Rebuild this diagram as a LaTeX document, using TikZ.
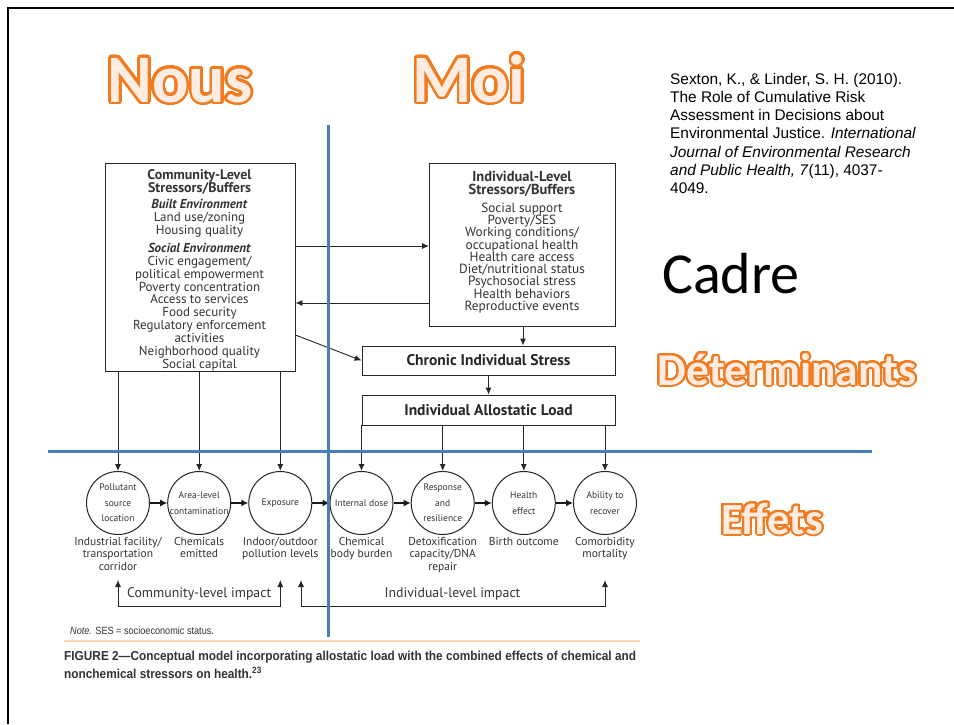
\documentclass[tikz,border=0pt]{standalone}
\usepackage{fontspec}
\usepackage{contour}
\usetikzlibrary{arrows.meta}
\setmainfont{PT Sans}
\newfontfamily\figfont{PT Sans}
\newfontfamily\arialf{Liberation Sans}
\newfontfamily\calib{Carlito}
\definecolor{blueline}{HTML}{4A7EBB}
\definecolor{orangeout}{HTML}{F27A1F}
\definecolor{palefill}{HTML}{FCECE2}
\definecolor{figtext}{HTML}{333333}
\definecolor{capline}{HTML}{F9D7B0}
\contournumber{40}
\begin{document}
\begin{tikzpicture}[x=1pt,y=-1pt,
  figtxt/.style={font=\figfont\fontsize{13}{12.9}\selectfont, text=figtext, align=center, inner sep=0pt},
  bx/.style={draw=black!85, line width=0.9pt, inner sep=0pt},
  circ/.style={circle, draw=black!85, line width=1pt, minimum size=63pt, inner sep=0pt, font=\figfont\fontsize{9.5}{15.5}\selectfont, text=figtext, align=center},
  arr/.style={-{Latex[length=7pt,width=6pt]}, line width=0.9pt, draw=black!85},
  arrboth/.style={{Latex[length=7pt,width=6pt]}-{Latex[length=7pt,width=6pt]}, line width=0.9pt, draw=black!85},
  harr/.style={-{Latex[length=7pt,width=7pt]}, line width=1.5pt, draw=black!90},
  lbl/.style={font=\figfont\fontsize{11.5}{12.6}\selectfont, text=figtext, align=center, anchor=north, inner sep=0pt},
  outl/.style={font=\calib\bfseries\fontsize{68}{68}\selectfont, anchor=base, inner sep=0pt},
  bluel/.style={draw=blueline, line width=3pt}
]
\path[use as bounding box] (0,0) rectangle (954,724);
\fill[white] (0,0) rectangle (954,724);
\draw[line width=2.5pt] (8,724) -- (8,8) -- (954,8);

% big outlined titles
\contourlength{2.6pt}
\node[outl] (nous) at (180,102) {\contour{orangeout}{\textcolor{palefill}{Nous}}};
\node[outl] (moi) at (469,102) {\contour{orangeout}{\textcolor{palefill}{Moi}}};
\contourlength{2pt}
\node[outl, font=\calib\bfseries\fontsize{45.5}{46}\selectfont] (det) at (787,385) {\contour{orangeout}{\textcolor{palefill}{Déterminants}}};
\node[outl, font=\calib\bfseries\fontsize{44.5}{45}\selectfont] (eff) at (772,534) {\contour{orangeout}{\textcolor{palefill}{Effets}}};
\node[anchor=base west, inner sep=0pt, font=\calib\fontsize{58}{58}\selectfont] (cadre) at (662,293) {Cadre};

% citation
\node[anchor=north west, inner sep=0pt, align=left, font=\arialf\fontsize{15.4}{18.1}\selectfont] (cite) at (670,73.3)
 {Sexton, K., \& Linder, S. H. (2010).\\The Role of Cumulative Risk\\Assessment in Decisions about\\Environmental Justice. \textit{International}\\\textit{Journal of Environmental Research}\\\textit{and Public Health, 7}(11), 4037-\\4049.};

% boxes
\node[bx, minimum width=190pt, minimum height=208pt, anchor=north west] (comm) at (104.5,162.5) {};
\node[figtxt, anchor=north] (commtxt) at (199.5,169.5)
 {{\bfseries\fontsize{14}{12}\selectfont Community-Level}\\[-0.3pt]{\bfseries\fontsize{14}{12}\selectfont Stressors/Buffers}\\[3.6pt]
  \textbf{\textit{Built Environment}}\\Land use/zoning\\Housing quality\\[4.8pt]
  \textbf{\textit{Social Environment}}\\Civic engagement/\\political empowerment\\Poverty concentration\\Access to services\\Food security\\Regulatory enforcement\\activities\\Neighborhood quality\\Social capital};

\node[bx, minimum width=186pt, minimum height=163pt, anchor=north west] (indiv) at (429,162.7) {};
\node[figtxt, anchor=north, font=\figfont\fontsize{13.3}{12.3}\selectfont] (indivtxt) at (522,171)
 {{\bfseries\fontsize{14.5}{12}\selectfont Individual-Level}\\[0.6pt]{\bfseries\fontsize{14.5}{12}\selectfont Stressors/Buffers}\\[5.4pt]
  Social support\\Poverty/SES\\Working conditions/\\occupational health\\Health care access\\Diet/nutritional status\\Psychosocial stress\\Health behaviors\\Reproductive events};

\node[bx, minimum width=253pt, minimum height=29pt, font=\figfont\bfseries\fontsize{15.5}{13}\selectfont, text=black!85] (chronic) at (488.5,360.5) {Chronic Individual Stress};
\node[bx, minimum width=253pt, minimum height=30pt, font=\figfont\bfseries\fontsize{15.5}{13}\selectfont, text=black!85] (allo) at (488.5,410) {Individual Allostatic Load};

% circles
\node[circ] (c1) at (118,503) {Pollutant\\source\\location};
\node[circ] (c2) at (199.2,503) {Area-level\\contamination};
\node[circ] (c3) at (280.3,503) {Exposure};
\node[circ] (c4) at (361.5,503) {Internal dose};
\node[circ] (c5) at (442.7,503) {Response\\and\\resilience};
\node[circ] (c6) at (523.8,503) {Health\\effect};
\node[circ] (c7) at (605,503) {Ability to\\recover};

% labels under circles
\node[lbl] (l1) at (118,537) {Industrial facility/\\transportation\\corridor};
\node[lbl] (l2) at (199.2,537) {Chemicals\\emitted};
\node[lbl] (l3) at (280.3,537) {Indoor/outdoor\\pollution levels};
\node[lbl] (l4) at (361.5,537) {Chemical\\body burden};
\node[lbl] (l5) at (442.7,537) {Detoxification\\capacity/DNA\\repair};
\node[lbl] (l6) at (523.8,537) {Birth outcome};
\node[lbl] (l7) at (605,537) {Comorbidity\\mortality};

% connectors between boxes
\draw[arr] (comm.east |- 0,246) -- (indiv.west |- 0,246);
\draw[arr] (indiv.west |- 0,303) -- (comm.east |- 0,303);
\draw[arr] (comm.east |- 0,335) -- (chronic.west);
\draw[arr] (indiv.south -| 523,0) -- (chronic.north -| 523,0);
\draw[arr] (chronic.south) -- (allo.north);
\foreach \i in {1,2,3} \draw[arr] (comm.south -| c\i) -- (c\i.north);
\foreach \i in {4,5,6,7} \draw[arr] (allo.south -| c\i) -- (c\i.north);
\foreach \i/\j in {1/2,2/3,3/4,4/5,5/6,6/7} \draw[harr] (c\i.east) -- (c\j.west);

% impact brackets
\coordinate (ca) at (118,580);
\coordinate (cb) at (280.3,580);
\coordinate (ia) at (301,580);
\coordinate (ib) at (605,580);
\draw[arrboth] (ca) -- (118,606) -- (280.3,606) -- (cb);
\draw[arrboth] (ia) -- (301,606) -- (605,606) -- (ib);
\node[font=\figfont\fontsize{13.8}{14}\selectfont, text=figtext, inner sep=0pt] (cimp) at (199.2,594) {Community-level impact};
\node[font=\figfont\fontsize{13.8}{14}\selectfont, text=figtext, inner sep=0pt] (iimp) at (452.5,594) {Individual-level impact};

% note and caption
\node[anchor=base west, inner sep=0pt, font=\arialf\fontsize{10.5}{11}\selectfont, text=figtext] (note) at (70,634) {\scalebox{0.87}[1]{\textit{Note.} SES = socioeconomic status.}};
\draw[capline, line width=1.5pt] (64,641) -- (640,641);
\node[anchor=base west, inner sep=0pt, font=\arialf\bfseries\fontsize{13}{13}\selectfont, text=black!80] (cap1) at (64,660) {\scalebox{0.91}[1]{FIGURE 2—Conceptual model incorporating allostatic load with the combined effects of chemical and}};
\node[anchor=base west, inner sep=0pt, font=\arialf\bfseries\fontsize{13}{13}\selectfont, text=black!80] (cap2) at (64,678) {\scalebox{0.91}[1]{nonchemical stressors on health.\textsuperscript{23}}};

% blue lines
\draw[bluel] (328,125) -- (328,637);
\draw[bluel] (48,451) -- (872,451);
\end{tikzpicture}
\end{document}
